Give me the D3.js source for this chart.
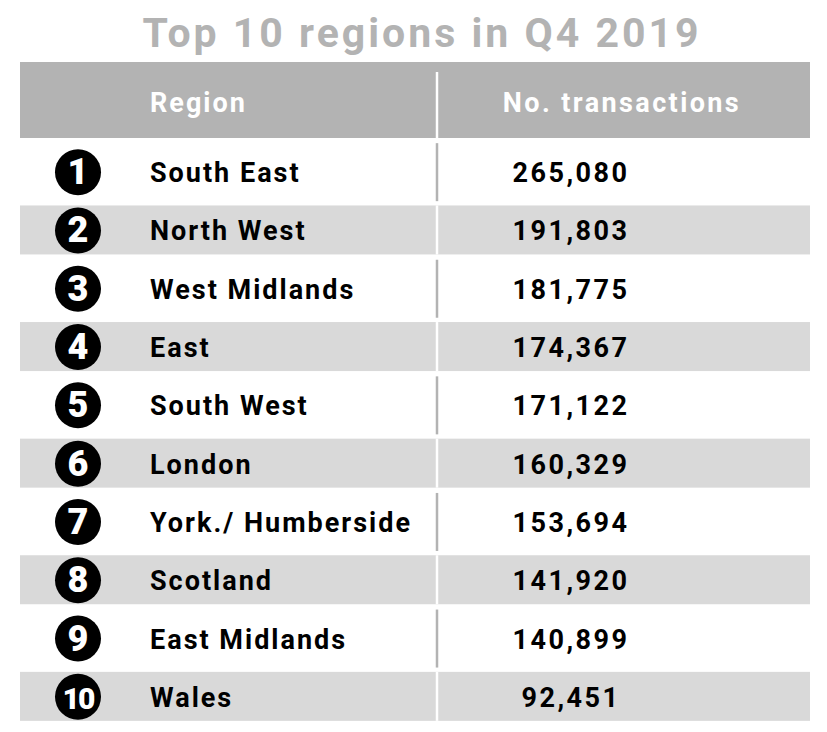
<!DOCTYPE html>
<html><head><meta charset="utf-8">
<script src="https://cdn.jsdelivr.net/npm/d3@7"></script>
<style>body{margin:0;background:#fff}</style>
</head><body><div id="chart"></div>
<script>
const ranks = [1,2,3,4,5,6,7,8,9,10];
const regions = ["South East","North West","West Midlands","East","South West","London","York./ Humberside","Scotland","East Midlands","Wales"];
const transactions = [265080,191803,181775,174367,171122,160329,153694,141920,140899,92451];

const W = 827, H = 732;
const font = "Roboto, 'Noto Sans', sans-serif";
const svg = d3.select("#chart").append("svg").attr("width", W).attr("height", H)
  .style("font-family", font);

svg.append("text").attr("x", 422).attr("y", 47).attr("text-anchor", "middle")
  .attr("font-size", 41).attr("font-weight", 700).attr("fill", "#b3b3b3")
  .attr("letter-spacing", 3)
  .text("Top 10 regions in Q4 2019");

// header
svg.append("rect").attr("x", 20).attr("y", 62).attr("width", 790).attr("height", 76).attr("fill", "#b3b3b3");
svg.append("text").attr("x", 150).attr("y", 112).attr("font-size", 27).attr("font-weight", 700)
  .attr("letter-spacing", 2).attr("fill", "#fff").text("Region");
svg.append("text").attr("x", 622).attr("y", 112).attr("text-anchor", "middle").attr("font-size", 27)
  .attr("letter-spacing", 2.4).attr("font-weight", 700).attr("fill", "#fff").text("No. transactions");
svg.append("line").attr("x1", 437).attr("x2", 437).attr("y1", 72).attr("y2", 138)
  .attr("stroke", "#fff").attr("stroke-width", 2.5);

const y = d3.scaleBand().domain(ranks).range([143, 726]);
const fmt = d3.format(",");

const row = svg.selectAll("g.row").data(ranks).join("g").attr("class", "row")
  .attr("transform", d => `translate(0,${y(d) + y.bandwidth() / 2})`);

row.filter(d => d % 2 === 0).append("rect")
  .attr("x", 20).attr("width", 790).attr("y", -25).attr("height", 49).attr("fill", "#d9d9d9");

row.append("line").attr("x1", 437).attr("x2", 437)
  .attr("y1", d => d % 2 ? -29 : -25).attr("y2", d => d % 2 ? 29 : 24)
  .attr("stroke", d => d % 2 ? "#b3b3b3" : "#fff").attr("stroke-width", 2.5);

row.append("circle").attr("cx", 78).attr("r", 23).attr("fill", "#000");
row.append("text").attr("x", 78).attr("y", 12).attr("text-anchor", "middle")
  .attr("font-size", d => d === 10 ? 30 : 36).attr("font-weight", 900).attr("fill", "#fff")
  .attr("letter-spacing", d => d === 10 ? -2 : 0)
  .text(d => d);

row.append("text").attr("x", 150).attr("y", 10).attr("font-size", 27).attr("font-weight", 700)
  .attr("letter-spacing", 2).attr("fill", "#000").text((d, i) => regions[i]);
row.append("text").attr("x", 571).attr("y", 10).attr("text-anchor", "middle").attr("font-size", 27)
  .attr("letter-spacing", 2.5).attr("font-weight", 700).attr("fill", "#000").text((d, i) => fmt(transactions[i]));
</script></body></html>
